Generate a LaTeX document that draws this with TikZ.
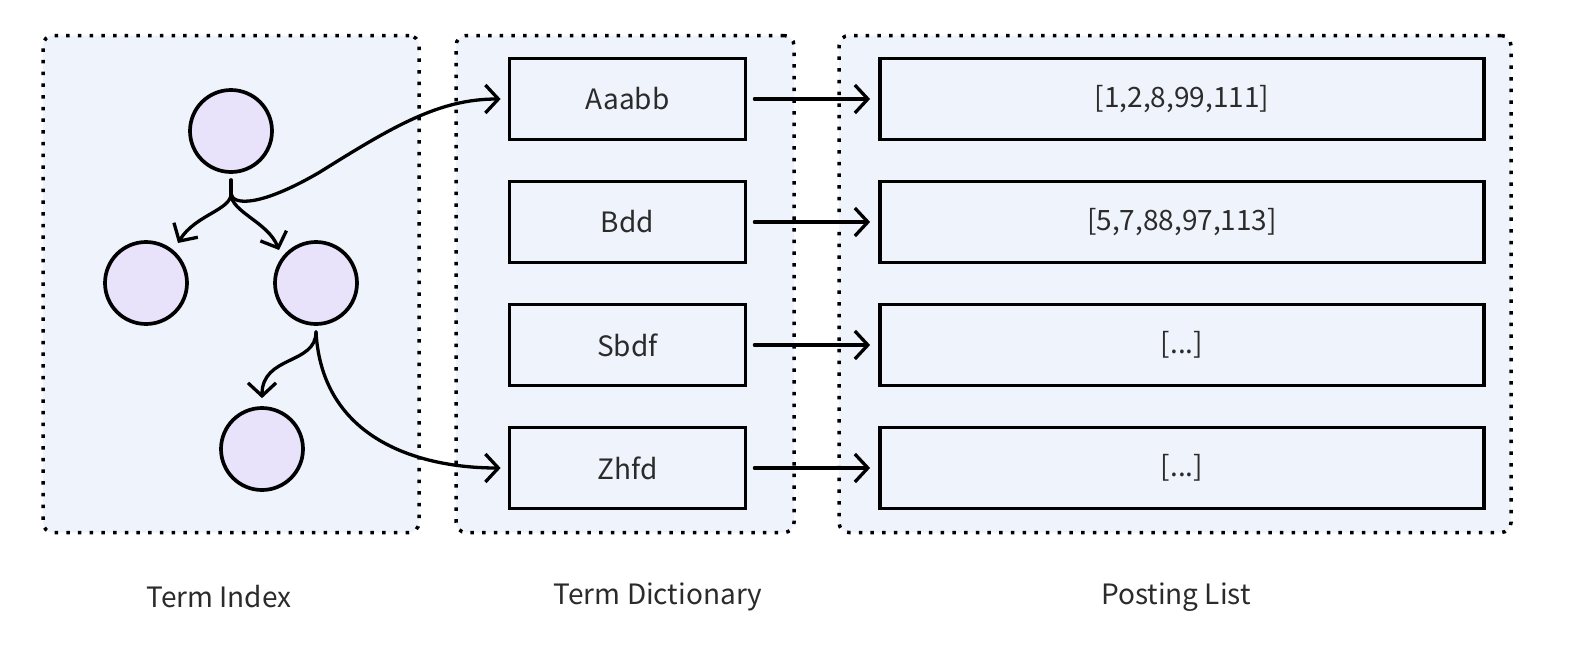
\documentclass[tikz,border=0pt]{standalone}
\usepackage{fontspec}
\setmainfont{Noto Sans CJK SC}
\usetikzlibrary{arrows.meta,calc}
\definecolor{panelfill}{HTML}{EFF3FB}
\definecolor{circfill}{HTML}{E9E2FB}
\definecolor{txt}{HTML}{2B2B2B}
\tikzset{
  panel/.style={draw=black, fill=panelfill, line width=3.5pt, dash pattern=on 3.5pt off 8.2pt, rounded corners=10pt, inner sep=0pt},
  treenode/.style={circle, draw=black, fill=circfill, line width=3.7pt, minimum size=82pt, inner sep=0pt},
  dictbox/.style={draw=black, fill=panelfill, line width=3.8pt, minimum width=236pt, minimum height=81pt, inner sep=0pt, text=txt, font=\fontsize{28}{32}\selectfont},
  postbox/.style={draw=black, fill=panelfill, line width=3.8pt, minimum width=604pt, minimum height=81pt, inner sep=0pt, text=txt, font=\fontsize{28}{32}\selectfont},
  title/.style={text=txt, font=\fontsize{28}{32}\selectfont, inner sep=0pt},
  arr/.style={line width=3.3pt, -{Straight Barb[length=13pt,width=28pt,line width=3.3pt]}, line cap=round, line join=round},
  conn/.style={line width=3.3pt, line cap=round}
}
\begin{document}
\begin{tikzpicture}[x=1pt,y=-1pt]
\useasboundingbox (0,0) rectangle (1572,654);
% panels
\node[panel, minimum width=376pt, minimum height=497pt] (P1) at (231,284) {};
\node[panel, minimum width=338pt, minimum height=497pt] (P2) at (625,284) {};
\node[panel, minimum width=672pt, minimum height=497pt] (P3) at (1175,284) {};
% tree
\node[treenode] (c1) at (231,131) {};
\node[treenode] (c2) at (146,283) {};
\node[treenode] (c3) at (316,283) {};
\node[treenode] (c4) at (262,449) {};
% dictionary
\node[dictbox] (d1) at (627.5,99) {Aaabb};
\node[dictbox] (d2) at (627.5,222) {Bdd};
\node[dictbox] (d3) at (627.5,345) {Sbdf};
\node[dictbox] (d4) at (627.5,468) {Zhfd};
% postings
\node[postbox] (p1) at (1182,99) {[1,2,8,99,111]};
\node[postbox] (p2) at (1182,222) {[5,7,88,97,113]};
\node[postbox] (p3) at (1182,345) {[...]};
\node[postbox] (p4) at (1182,468) {[...]};
% titles
\node[title] (t1) at (219,597) {Term Index};
\node[title] (t2) at (658,597) {Term Dictionary};
\node[title] (t3) at (1176,597) {Posting List};
% horizontal arrows
\foreach \i in {1,...,4}{
  \draw[arr, shorten <=7pt, shorten >=8pt] (d\i.east) -- (p\i.west);
}
% tree connectors
\coordinate (s1) at ($(c1.south)+(0,6)$);
\coordinate (b1) at ($(c1.south)+(0,20)$);
\draw[conn] (s1) -- (b1);
\draw[arr] (b1) .. controls (231,210) and (195,215) .. (178,243);
\draw[arr] (b1) .. controls (231,212) and (268,222) .. (279,250);
\draw[arr] (b1) .. controls (233,206) and (262,206) .. (320,172) .. controls (395,125) and (440,99) .. ($(d1.west)+(-7,0)$);
\coordinate (s2) at ($(c3.south)+(0,6)$);
\draw[arr] (s2) .. controls (316,365) and (262,355) .. ($(c4.north)+(0,-8)$);
\draw[arr] (s2) .. controls (322,440) and (420,468) .. ($(d4.west)+(-7,0)$);
\end{tikzpicture}
\end{document}
